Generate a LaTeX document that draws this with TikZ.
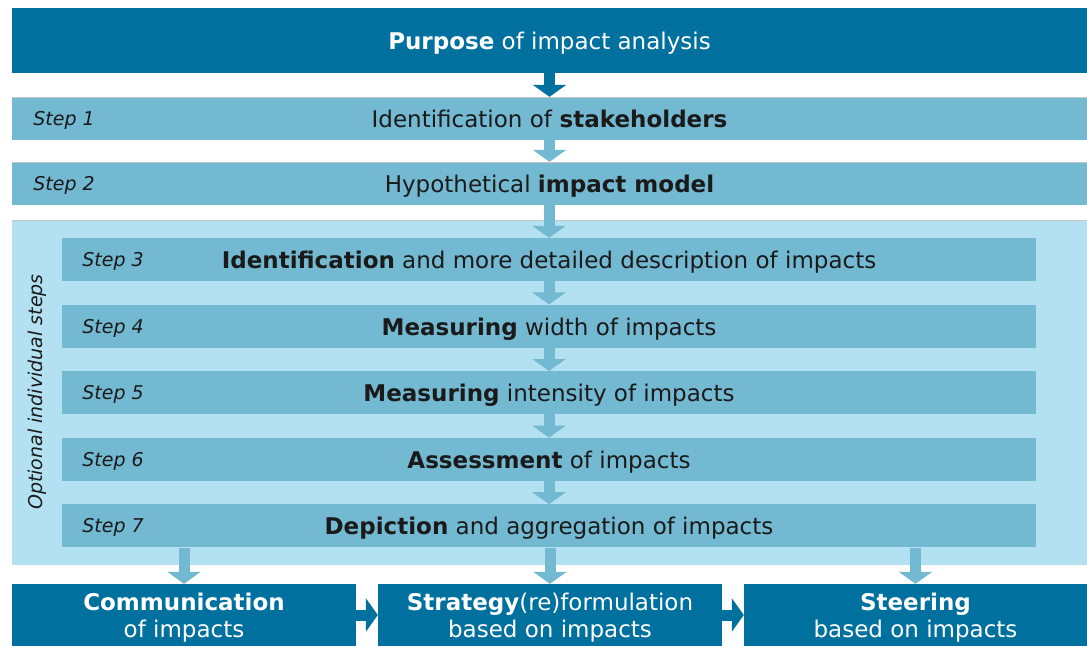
\documentclass[tikz,border=0pt]{standalone}
\usepackage{fontspec}
\setmainfont{DejaVu Sans}
\usetikzlibrary{arrows.meta}
\definecolor{darkbar}{HTML}{00709E}
\definecolor{stepfill}{HTML}{73B9D1}
\definecolor{optfill}{HTML}{B3E1F1}
\definecolor{txt}{HTML}{1A1A1A}
\begin{document}
\begin{tikzpicture}[x=1pt,y=-1pt,
  bar/.style={rectangle,inner sep=0pt,minimum height=43pt,text=txt,
    text height=18pt,text depth=0pt,font=\fontsize{23}{27}\selectfont},
  mainbar/.style={bar,fill=darkbar,text=white},
  stepbar/.style={bar,fill=stepfill},
  resultbox/.style={mainbar,minimum height=62pt,align=center,text height=,text depth=0pt},
  steplabel/.style={anchor=west,text=txt,text height=14pt,text depth=0pt,
    font=\fontsize{19}{22}\selectfont\itshape},
  blockarrow/.style={line width=11pt,-{Triangle[length=12pt,width=33pt]}}]
\useasboundingbox (0,0) rectangle (1087,646);
\node[mainbar,minimum width=1075pt,minimum height=65pt] (purpose) at (549.5,40.5) {\textbf{Purpose} of impact analysis};
\node[stepbar,minimum width=1075pt] (step1) at (549.5,118.5) {Identification of \textbf{stakeholders}};
\node[steplabel] (lab1) at ([xshift=18pt]step1.west) {Step 1};
\node[stepbar,minimum width=1075pt] (step2) at (549.5,183.5) {Hypothetical \textbf{impact model}};
\node[steplabel] (lab2) at ([xshift=18pt]step2.west) {Step 2};
\draw[gray!45] (step1.north west) -- (step1.north east);
\draw[gray!45] (step2.north west) -- (step2.north east);
% optional steps
\node[fill=optfill,inner sep=0pt,minimum width=1075pt,minimum height=345pt] (optional) at (549.5,392.5) {};
\draw[gray!45] (optional.north west) -- (optional.north east);
\node[rotate=90,text=txt,font=\fontsize{19}{22}\selectfont\itshape] (optlabel) at (37,392) {Optional individual steps};
\foreach \i/\desc in {3/{\textbf{Identification} and more detailed description of impacts},
  4/{\textbf{Measuring} width of impacts},
  5/{\textbf{Measuring} intensity of impacts},
  6/{\textbf{Assessment} of impacts},
  7/{\textbf{Depiction} and aggregation of impacts}} {
  \node[stepbar,minimum width=974pt] (step\i) at (549,{259.5+66.6*(\i-3)}) {\desc};
  \node[steplabel] (lab\i) at ([xshift=17pt]step\i.west) {Step \i};
}
% results
\node[resultbox,minimum width=344pt] (comm) at (184,615) {\textbf{Communication}\\of impacts};
\node[resultbox,minimum width=344pt] (strat) at (550,615) {\textbf{Strategy}(re)formulation\\based on impacts};
\node[resultbox,minimum width=343pt] (steer) at (915.5,615) {\textbf{Steering}\\based on impacts};
% arrows
\draw[blockarrow,darkbar] (purpose.south) -- (step1.north);
\draw[blockarrow,stepfill] (step1.south) -- (step2.north);
\draw[blockarrow,stepfill] (step3.north |- step2.south) -- (step3.north);
\foreach \i [evaluate=\i as \j using int(\i+1)] in {3,...,6}
  \draw[blockarrow,stepfill] (step\i.south) -- (step\j.north);
\foreach \b in {comm,strat,steer}
  \draw[blockarrow,stepfill] (\b.north |- step7.south) -- (\b.north);
\draw[blockarrow,darkbar] (comm) -- (strat);
\draw[blockarrow,darkbar] (strat) -- (steer);
\end{tikzpicture}
\end{document}
